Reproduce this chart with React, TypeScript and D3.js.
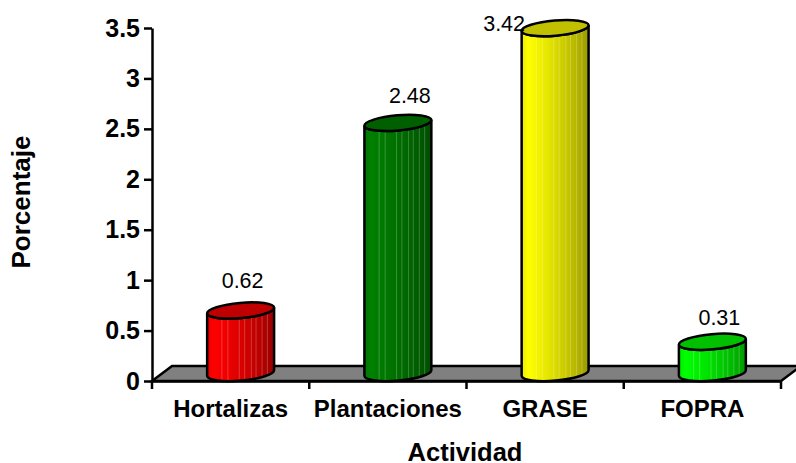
import React, { useEffect, useRef } from 'react';
import * as d3 from 'd3';

const categories = ['Hortalizas', 'Plantaciones', 'GRASE', 'FOPRA'];
const values = [0.62, 2.48, 3.42, 0.31];
const valueLabels = ['0.62', '2.48', '3.42', '0.31'];
const barColors = ['#ff0000', '#008000', '#ffff00', '#00ff00'];
const topColors = ['#c00000', '#006000', '#c0c000', '#00c000'];
const yTicks = [0, 0.5, 1, 1.5, 2, 2.5, 3, 3.5];
// light vertical streaks on the cylinders, as a fraction of the bar width
const streaks = [0.22, 0.31, 0.48, 0.56, 0.66, 0.73, 0.82, 0.9];
const shadeStops = [0, 0.1, 0.45, 0.8, 1];
const shadeFactors = [0.92, 1, 0.88, 0.72, 0.6];
// hand placed value labels, offset from the top of each cylinder
const labelDx = [2, 12, -51, 7];
const labelDy = [-22, -20, 3, -17];

const FONT = '"Liberation Sans", Arial, sans-serif';

const App = () => {
  const svgRef = useRef<SVGSVGElement>(null);

  useEffect(() => {
    const svg = d3.select(svgRef.current);
    svg.selectAll('*').remove();

    const left = 152;
    const right = 781;
    const bottom = 381;
    const top = 28;
    // 3D depth of the floor
    const depthX = 20;
    const depthY = 15;

    const x = d3.scaleBand().domain(categories).range([left, right]);
    const y = d3.scaleLinear().domain([0, 3.5]).range([bottom, top]);

    const defs = svg.append('defs');

    // Floor
    svg.append('path')
      .attr('d', `M${left},${bottom}L${left + depthX},${bottom - depthY}L${right + depthX},${bottom - depthY}L${right},${bottom}Z`)
      .attr('fill', '#808080')
      .attr('stroke', '#000')
      .attr('stroke-width', 2.5);

    // Axes
    const yAxis = svg.append('g')
      .attr('transform', `translate(${left},0)`)
      .call(d3.axisLeft(y).tickValues(yTicks).tickFormat(d3.format('~g')).tickSize(8).tickSizeOuter(0).tickPadding(4));
    const xAxis = svg.append('g')
      .attr('transform', `translate(0,${bottom})`)
      .call(d3.axisBottom(x).tickSize(0).tickPadding(19));

    yAxis.selectAll('.domain, line').attr('stroke', '#000').attr('stroke-width', 2.5);
    yAxis.selectAll('text')
      .attr('fill', '#000')
      .style('font-family', FONT)
      .style('font-size', '25px')
      .style('font-weight', 'bold');

    xAxis.select('.domain').attr('stroke', '#000').attr('stroke-width', 2.5);
    xAxis.selectAll('text')
      .attr('fill', '#000')
      .style('font-family', FONT)
      .style('font-size', '24px')
      .style('font-weight', 'bold');

    // Tick marks sit between the categories
    const edges = [...categories.map(c => x(c) as number), right];
    svg.append('g')
      .selectAll('line')
      .data(edges)
      .enter()
      .append('line')
      .attr('x1', d => d)
      .attr('x2', d => d)
      .attr('y1', bottom)
      .attr('y2', bottom + 8)
      .attr('stroke', '#000')
      .attr('stroke-width', 2.5);

    // Cylinders
    const rx = 33.6;
    const ry = 7.6;
    const tilt = -5;
    const endX = rx * Math.cos((tilt * Math.PI) / 180);
    const endY = rx * Math.sin((tilt * Math.PI) / 180);

    categories.forEach((cat, i) => {
      const cx = (x(cat) as number) + x.bandwidth() / 2 + depthX / 2;
      const baseY = bottom - 8;
      const topY = y(values[i]) - 8;

      const base = d3.rgb(barColors[i]);
      const grad = defs.append('linearGradient').attr('id', `shade${i}`);
      shadeStops.forEach((s, k) => {
        const f = shadeFactors[k];
        grad.append('stop')
          .attr('offset', s)
          .attr('stop-color', d3.rgb(base.r * f, base.g * f, base.b * f).formatHex());
      });

      const body = `M${cx - endX},${topY - endY}L${cx - endX},${baseY - endY}`
        + `A${rx},${ry} ${tilt} 0 0 ${cx + endX},${baseY + endY}`
        + `L${cx + endX},${topY + endY}`
        + `A${rx},${ry} ${tilt} 0 1 ${cx - endX},${topY - endY}Z`;

      defs.append('clipPath').attr('id', `body${i}`).append('path').attr('d', body);

      svg.append('path').attr('d', body).attr('fill', `url(#shade${i})`);

      svg.append('g')
        .attr('clip-path', `url(#body${i})`)
        .selectAll('line')
        .data(streaks)
        .enter()
        .append('line')
        .attr('x1', d => cx - endX + d * 2 * endX)
        .attr('x2', d => cx - endX + d * 2 * endX)
        .attr('y1', topY - 20)
        .attr('y2', baseY + 20)
        .attr('stroke', '#fff')
        .attr('stroke-opacity', 0.22)
        .attr('stroke-width', 1);

      svg.append('path')
        .attr('d', body)
        .attr('fill', 'none')
        .attr('stroke', '#000')
        .attr('stroke-width', 2.5);

      svg.append('ellipse')
        .attr('rx', rx)
        .attr('ry', ry)
        .attr('transform', `translate(${cx},${topY}) rotate(${tilt})`)
        .attr('fill', topColors[i])
        .attr('stroke', '#000')
        .attr('stroke-width', 2.5);

      svg.append('text')
        .attr('x', cx + labelDx[i])
        .attr('y', topY + labelDy[i])
        .attr('text-anchor', 'middle')
        .attr('fill', '#000')
        .style('font-family', FONT)
        .style('font-size', '21.5px')
        .text(valueLabels[i]);
    });

    // Axis titles
    svg.append('text')
      .attr('transform', `translate(30,202) rotate(-90)`)
      .attr('text-anchor', 'middle')
      .attr('fill', '#000')
      .style('font-family', FONT)
      .style('font-size', '26px')
      .style('font-weight', 'bold')
      .text('Porcentaje');

    svg.append('text')
      .attr('x', 465)
      .attr('y', 461)
      .attr('text-anchor', 'middle')
      .attr('fill', '#000')
      .style('font-family', FONT)
      .style('font-size', '25.5px')
      .style('font-weight', 'bold')
      .text('Actividad');
  }, []);

  return (
    <svg
      ref={svgRef}
      width={796}
      height={463}
      style={{ position: 'fixed', left: 0, top: 0, display: 'block', background: '#fff' }}
    />
  );
};

export default App;
